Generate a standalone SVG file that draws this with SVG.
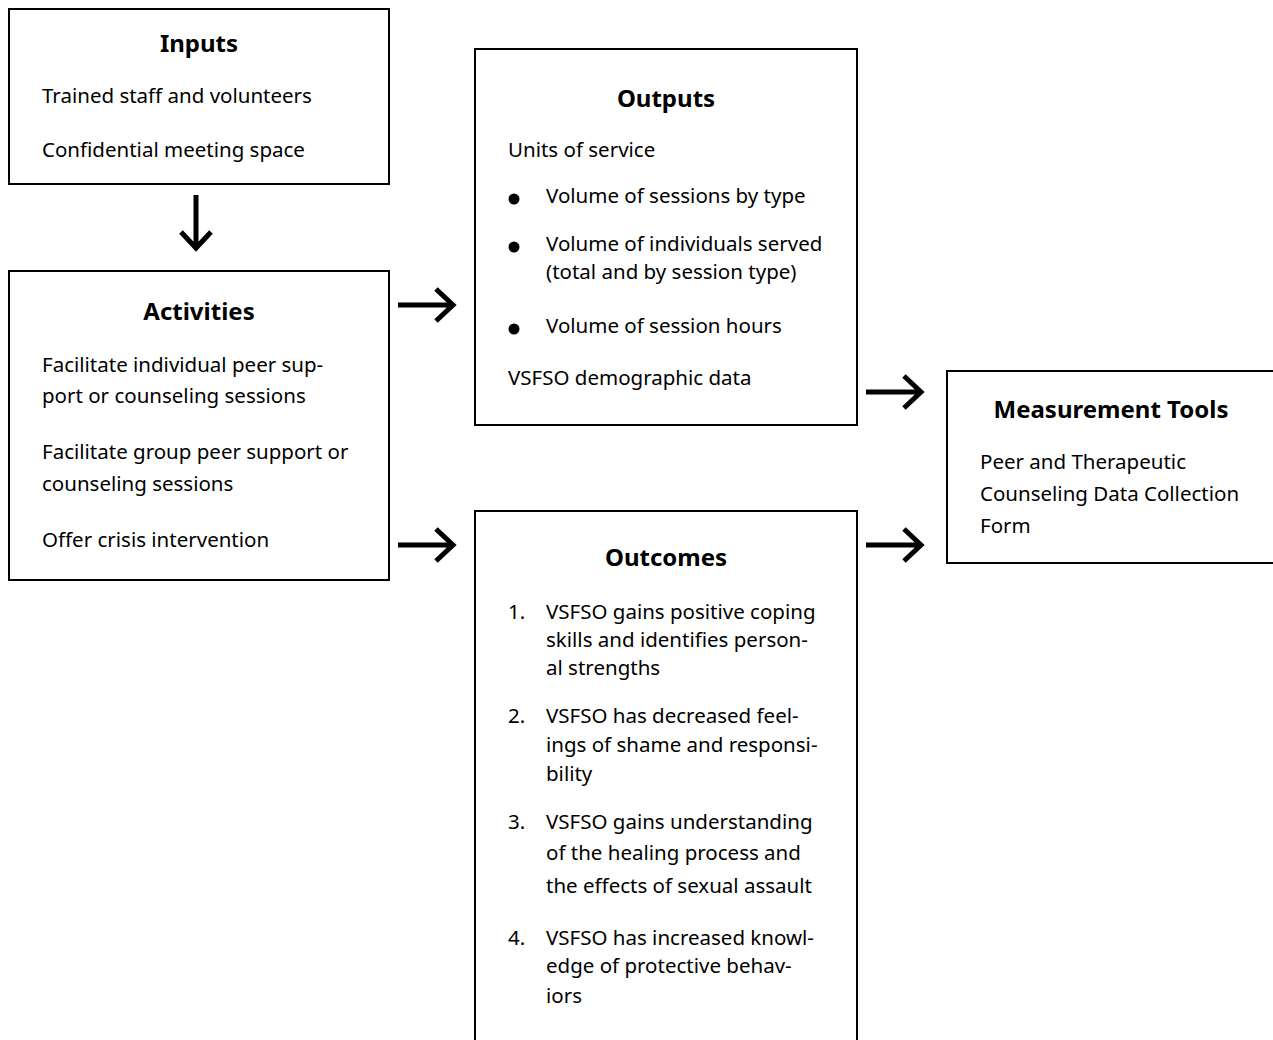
<svg xmlns="http://www.w3.org/2000/svg" width="1273" height="1040" viewBox="0 0 1273 1040">
<style>
.box{fill:#fff;stroke:#000;stroke-width:2}
.t{font-family:"Noto Sans","Liberation Sans",sans-serif;font-size:20.5px;fill:#000}
.h{font-family:"Noto Sans","Liberation Sans",sans-serif;font-size:24px;font-weight:bold;fill:#000;text-anchor:middle}
.arr{fill:none;stroke:#000;stroke-width:5}
</style>
<rect width="1273" height="1040" fill="#fff"/>
<g id="inputs">
<rect class="box" x="9" y="9" width="380" height="175"/>
<text class="h" x="199" y="52">Inputs</text>
<text class="t" x="42" y="103">Trained staff and volunteers</text>
<text class="t" x="42" y="157">Confidential meeting space</text>
</g>
<g id="activities">
<rect class="box" x="9" y="271" width="380" height="309"/>
<text class="h" x="199" y="320">Activities</text>
<text class="t" x="42" y="372">Facilitate individual peer sup-</text>
<text class="t" x="42" y="403">port or counseling sessions</text>
<text class="t" x="42" y="459">Facilitate group peer support or</text>
<text class="t" x="42" y="491">counseling sessions</text>
<text class="t" x="42" y="547">Offer crisis intervention</text>
</g>
<g id="outputs">
<rect class="box" x="475" y="49" width="382" height="376"/>
<text class="h" x="666" y="107">Outputs</text>
<text class="t" x="508" y="157">Units of service</text>
<circle cx="514" cy="199" r="5.5"/>
<text class="t" x="546" y="203">Volume of sessions by type</text>
<circle cx="514" cy="247" r="5.5"/>
<text class="t" x="546" y="251">Volume of individuals served</text>
<text class="t" x="546" y="279">(total and by session type)</text>
<circle cx="514" cy="329" r="5.5"/>
<text class="t" x="546" y="333">Volume of session hours</text>
<text class="t" x="508" y="385">VSFSO demographic data</text>
</g>
<g id="outcomes">
<rect class="box" x="475" y="511" width="382" height="540"/>
<text class="h" x="666" y="566">Outcomes</text>
<text class="t" x="508" y="619">1.</text>
<text class="t" x="546" y="619">VSFSO gains positive coping</text>
<text class="t" x="546" y="647">skills and identifies person-</text>
<text class="t" x="546" y="675">al strengths</text>
<text class="t" x="508" y="723">2.</text>
<text class="t" x="546" y="723">VSFSO has decreased feel-</text>
<text class="t" x="546" y="752">ings of shame and responsi-</text>
<text class="t" x="546" y="781">bility</text>
<text class="t" x="508" y="829">3.</text>
<text class="t" x="546" y="829">VSFSO gains understanding</text>
<text class="t" x="546" y="860">of the healing process and</text>
<text class="t" x="546" y="893">the effects of sexual assault</text>
<text class="t" x="508" y="945">4.</text>
<text class="t" x="546" y="945">VSFSO has increased knowl-</text>
<text class="t" x="546" y="973">edge of protective behav-</text>
<text class="t" x="546" y="1003">iors</text>
</g>
<g id="measurement">
<rect class="box" x="947" y="371" width="340" height="192"/>
<text class="h" x="1111" y="418">Measurement Tools</text>
<text class="t" x="980" y="469">Peer and Therapeutic</text>
<text class="t" x="980" y="501">Counseling Data Collection</text>
<text class="t" x="980" y="533">Form</text>
</g>
<g id="connectors">
<path class="arr" d="M196 195V248M181 232L196 248L211 232"/>
<path class="arr" d="M398 305H453M436 289L453 305L436 321"/>
<path class="arr" d="M398 545H453M436 529L453 545L436 561"/>
<path class="arr" d="M866 392H921M904 376L921 392L904 408"/>
<path class="arr" d="M866 545H921M904 529L921 545L904 561"/>
</g>
</svg>
